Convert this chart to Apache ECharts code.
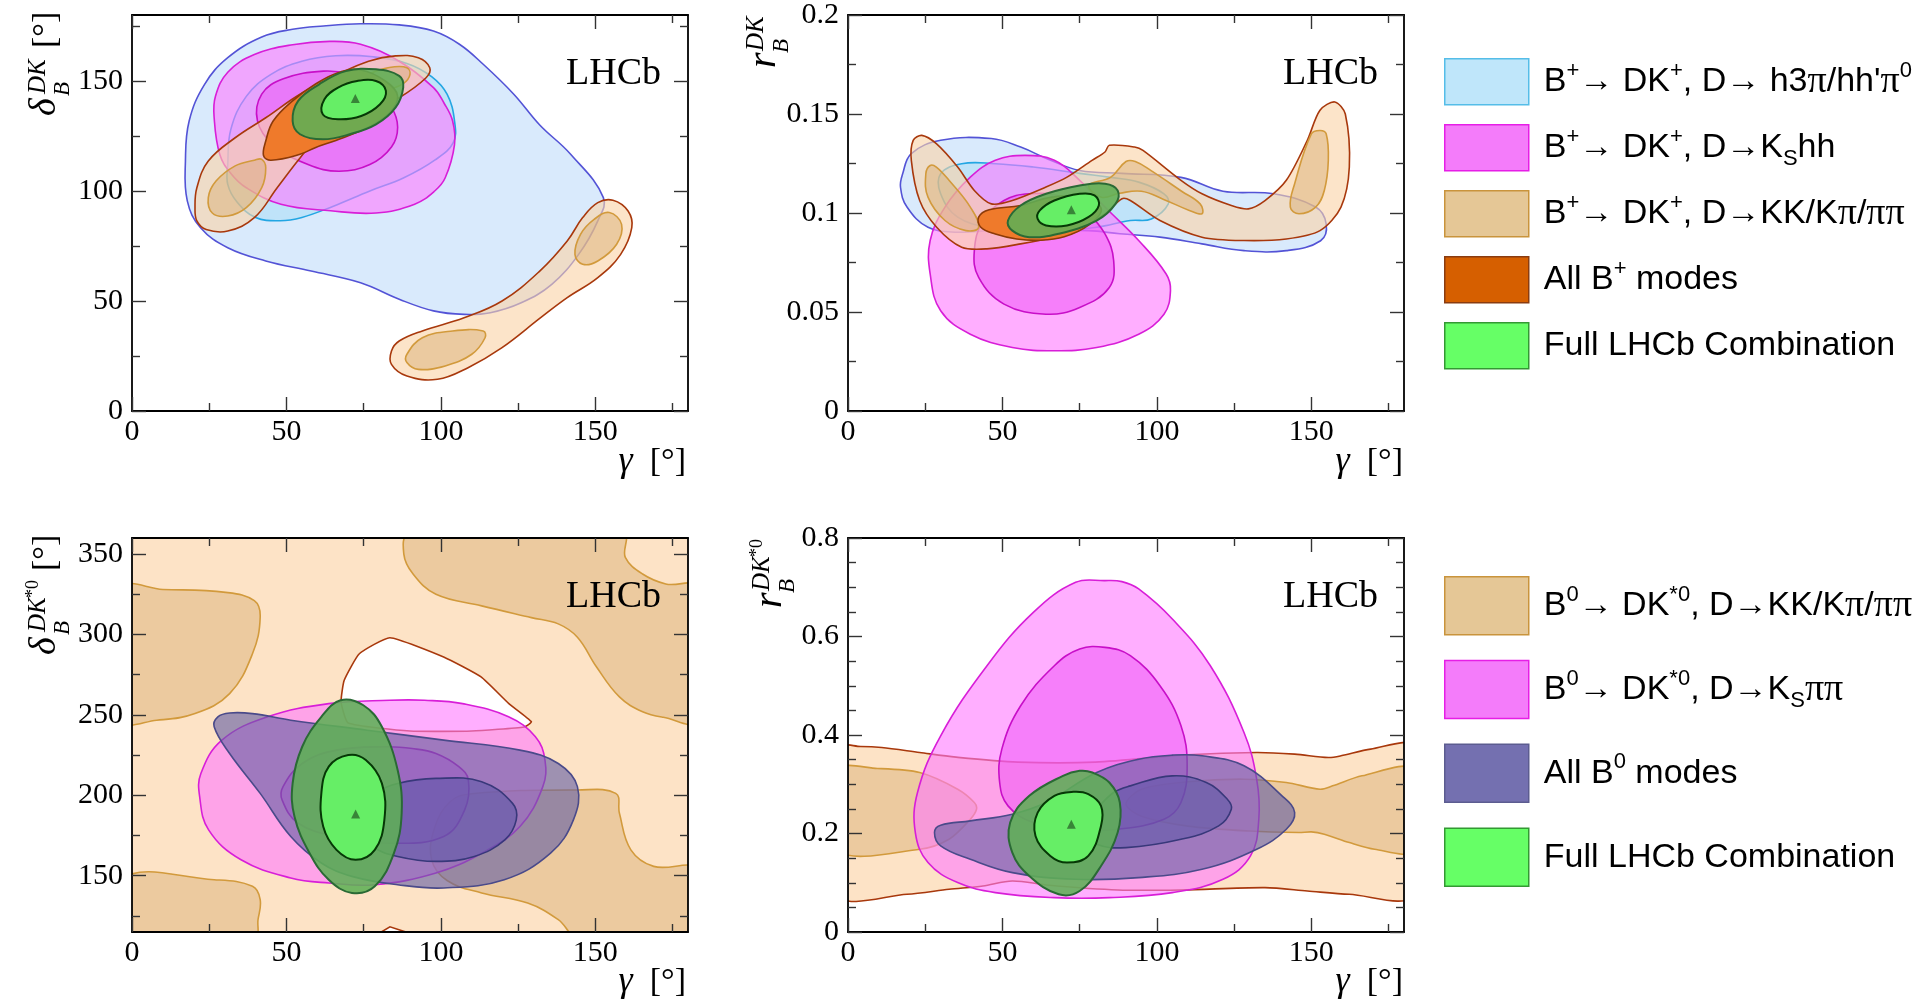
<!DOCTYPE html>
<html>
<head>
<meta charset="utf-8">
<script src="https://cdn.jsdelivr.net/npm/echarts@6/dist/echarts.min.js"></script>
<style>
  html, body { margin: 0; padding: 0; background: #fff; }
  #chart { width: 1917px; height: 1003px; }
</style>
</head>
<body>
<div id="chart"></div>
<script>
// ---- axis ticks ----
const gammaMajor = [0, 50, 100, 150];
const gammaMinor = [25, 75, 125, 175];
const deltaDKMajor = [0, 50, 100, 150];
const deltaDKMinor = [25, 75, 125, 175];
const rDKMajor = [0, 0.05, 0.1, 0.15, 0.2];
const rDKMinor = [0.025, 0.075, 0.125, 0.175];
const deltaDKstMajor = [150, 200, 250, 300, 350];
const deltaDKstMinor = [125, 175, 225, 275, 325];
const rDKstMajor = [0, 0.2, 0.4, 0.6, 0.8];
const rDKstMinor = [0.05, 0.1, 0.15, 0.25, 0.3, 0.35, 0.45, 0.5, 0.55, 0.65, 0.7, 0.75];

// ---- top left: gamma vs delta_B^DK ----
const tlH3piOuter = [[74,176],[62,175],[52,173.5],[42,170],[31,160.6],[23.5,148.5],[18.5,131.8],[17.3,113.6],[17.9,95.5],[22.2,83.3],[31,74.2],[43.3,68.2],[58,63.6],[74,58.3],[86.5,50.8],[97.6,45.5],[107.5,43.9],[116,44.7],[126,49.2],[135.9,57.6],[144.6,71.2],[150.8,86.4],[152.6,97],[142,116.7],[132,130],[123.6,144],[113.7,157.6],[106,166.7],[97.6,172.7],[86.5,175.5]];
const tlH3piInner = [[31,112],[32,128],[37,143],[45,153],[55,159],[66,161.5],[78,161],[89,158],[97,152],[102,144],[104.4,132],[104,122],[98,114],[88,106],[77,100],[65,93],[55,88],[48,86.5],[40,88],[34,95],[31,103]];
const tlKshhOuter = [[64,168],[52,166.5],[39.6,162],[31,154],[27,143],[26.6,133.3],[28.4,116.7],[32,108],[37,101.5],[48.2,94],[64.3,91],[79,90],[91.5,94],[98,100],[101.4,106],[104.4,121],[103.8,131.8],[101,140],[97.6,147],[86.5,159],[74,166.7]];
const tlKshhInner = [[62,154.5],[49,151],[42,144],[40.6,132],[45.7,121],[57,112],[67,109],[77,112],[84,120],[86,129],[84,138],[78,147],[70,153]];
const tlKKOuterA = [[21,86.4],[24,82.5],[31,81.8],[39.6,87.9],[47,101.5],[54.4,115],[59.3,122.7],[66,128],[75,134],[86.5,142.4],[95.2,151.5],[96.4,156],[92.7,160.6],[85.3,161.4],[76.6,159],[66.7,153],[54.4,144],[43.3,133.3],[33.4,124.2],[24.7,113.6],[21,101.5],[20.4,92.4]];
const tlKKOuterB = [[150.8,94.7],[155.7,95.8],[160.6,90.9],[161.8,83.3],[158.2,71.2],[150.8,60.6],[140.9,51.5],[132.3,42.4],[119.8,28.8],[108.8,19.7],[98.9,14.4],[89,15.9],[84,21.2],[84,27.3],[86.5,31.8],[94,36.4],[107.5,42.4],[119.8,50],[132,63.6],[140.9,77.3],[145.9,87.9]];
const tlKKInnerA = [[42,114.4],[43.3,110.6],[42,101.5],[37,92.4],[31,88.6],[26,90],[24.7,97],[27.2,104.5],[33.4,111.4],[39.6,114]];
const tlKKInnerB = [[74,150],[79,154.5],[85,156.5],[89,156],[90,153],[88,149],[83,146.2],[77,146.5]];
const tlKKInnerC = [[154.5,90.2],[158.5,84.8],[156.9,75.8],[150.8,68.2],[145.9,66.7],[143.4,71.2],[145.2,80.3],[149.6,87.1]];
const tlKKInnerD = [[89,25.8],[94,33.3],[103.8,36.4],[113.7,36.4],[114.3,33.3],[110,25.8],[101.4,20.5],[92.7,18.9],[89,22]];
const tlAllBp = [[42.6,116],[45,114],[54.4,116.7],[59.3,119.7],[66,123],[75,128],[83,135],[86,143],[82,150],[74,155],[66.7,153.8],[59.3,148.5],[52,141],[45.7,131.8],[43.3,122.7]];
const tlFullOuter = [[52,131.8],[54.4,125.8],[61.8,123.5],[70.5,125.8],[79,130.3],[85.3,137.9],[87.8,147],[86.5,152.3],[79,155.3],[69.2,154.5],[60.6,148.5],[53.8,141]];
const tlFullInner = [[61.8,134.8],[66.7,132.6],[74.2,134.1],[80.3,139.4],[82.2,145.5],[79,150],[72.9,150],[66.7,147],[62.3,141.7]];
const tlBest = [[72.3,142]];

// ---- top right: gamma vs r_B^DK ----
const trH3piOuter = [[17,0.113],[17.7,0.1198],[20.5,0.13],[30,0.1367],[46.4,0.1376],[55.9,0.1333],[65,0.127],[75,0.1215],[88.7,0.12],[107.8,0.118],[121.4,0.111],[137.8,0.1097],[151.4,0.103],[154.8,0.0945],[153,0.086],[141.9,0.081],[128.2,0.081],[114.6,0.0844],[101,0.0878],[88,0.0895],[77.8,0.0911],[60,0.0911],[46.4,0.0911],[35.5,0.0903],[25.9,0.0928],[19.1,0.103]];
const trH3piInner = [[30,0.1097],[30,0.1198],[36.8,0.1249],[47.7,0.1249],[60,0.1232],[75,0.12],[85,0.118],[94.1,0.1156],[102.3,0.1097],[103.7,0.1046],[98.2,0.097],[91.4,0.0962],[80.5,0.0928],[66.8,0.0911],[46.4,0.0928],[35.5,0.0979]];
const trKshhOuter = [[57.3,0.1291],[47.7,0.1266],[39.6,0.1181],[31.4,0.103],[26.6,0.0861],[26.6,0.0692],[30,0.0506],[39.6,0.0388],[53.2,0.0321],[66.8,0.0304],[80.5,0.0321],[94.1,0.0388],[102.3,0.0489],[104.4,0.0608],[103,0.0692],[94.1,0.0861],[83.2,0.103],[75,0.1165],[66.8,0.1266]];
const trKshhInner = [[58.7,0.1097],[50.5,0.1063],[43.7,0.0962],[40.9,0.081],[42.3,0.0675],[50.5,0.054],[64.1,0.0489],[75,0.0523],[84.6,0.0624],[86,0.076],[83.2,0.0894],[77.8,0.0996],[69.6,0.108]];
const trKKOuter = [[23.9,0.1392],[21.1,0.1367],[20.5,0.1266],[23.2,0.1063],[28.7,0.0928],[36.8,0.0827],[45,0.0819],[55.9,0.0844],[66.5,0.0878],[76,0.093],[83.2,0.0996],[88.7,0.1072],[91.4,0.1063],[101,0.0962],[114.6,0.0878],[128.2,0.0861],[141.9,0.0869],[152.8,0.0911],[159.6,0.103],[162.3,0.1232],[161,0.15],[157.6,0.1561],[152.8,0.1519],[148.7,0.1367],[141.9,0.1165],[135,0.1063],[129.6,0.1021],[124.1,0.1038],[114.6,0.1097],[107.8,0.1165],[95.5,0.1316],[92.8,0.1333],[84.6,0.1342],[83.2,0.1308],[79,0.1266],[70.9,0.1181],[64.1,0.1131],[53.2,0.1063],[46.4,0.1046],[40.9,0.1114],[35.5,0.1232],[28.6,0.135]];
const trKKInnerA = [[26.6,0.124],[25.2,0.1198],[25.9,0.108],[31.4,0.0962],[38.2,0.0911],[42.3,0.0928],[39.6,0.103],[32.7,0.1165],[28.6,0.1232]];
const trKKInnerB = [[78,0.114],[85,0.118],[90,0.126],[93,0.126],[98,0.1215],[108,0.111],[114,0.1046],[114.6,0.0996],[110.5,0.1013],[102,0.107],[95,0.111],[88,0.11],[82,0.108]];
const trKKInnerC = [[152.8,0.1417],[150,0.14],[144.6,0.1148],[143.2,0.103],[146,0.0996],[151.4,0.103],[154.2,0.1114],[155.5,0.1266],[154.8,0.14]];
const trAllBp = [[42.3,0.0979],[43,0.0928],[47.7,0.0894],[54.6,0.0869],[62,0.0862],[70,0.088],[78,0.094],[82,0.102],[76,0.108],[66,0.108],[55.9,0.1038],[45.7,0.1016]];
const trFullOuter = [[51.8,0.0962],[53.2,0.0911],[58.7,0.0878],[68.2,0.0895],[80.5,0.0962],[86.6,0.1046],[87.3,0.1114],[83.2,0.1148],[75,0.1139],[64.1,0.1097],[55.9,0.1038]];
const trFullInner = [[61.4,0.097],[64.1,0.0937],[70.9,0.0937],[77.8,0.0979],[81.2,0.1038],[79.8,0.1089],[75,0.1097],[66.8,0.1063],[62.1,0.1013]];
const trBest = [[72.3,0.1016]];

// ---- bottom left: gamma vs delta_B^DK*0 ----
const blKKOuter = [[-5,110],[185,110],[185,365],[-5,365]];
const blKKHoleA = [[67.7,258],[68.7,271.5],[73.6,288],[83.5,298],[100.9,286],[113,273.6],[122,257],[129.3,245.7],[127,242.5],[110,240],[90,240],[70,245]];
const blKKHoleB = [[79.8,114],[83.5,118.2],[90.3,114]];
const blKKInnerA = [[-3,328.3],[10,328],[30.3,326.2],[39.6,321],[41.5,310.7],[39,288],[31.6,263.2],[20.4,250.8],[8,246.7],[-3,246.7]];
const blKKInnerB = [[89.7,362],[88,350],[91,337.6],[98.4,325],[113.2,317.8],[129.3,310.5],[138,306.6],[144.2,298.3],[150.4,279.8],[157.8,261.2],[165.3,251.9],[172,248.5],[183,246.5],[183,329],[172.8,331.4],[165.3,337.6],[159.7,348],[159,362]];
const blKKInnerC = [[-3,148.6],[26.6,147.5],[39,143.4],[41.5,135.1],[40.8,122.7],[39.6,112],[-3,112]];
const blKKInnerD = [[110,201],[144.2,203.3],[156.6,201.2],[157.8,188.8],[161.5,166.1],[168.9,155.8],[183,153.7],[183,112],[144.2,112],[138,122.7],[128.1,133],[113.2,139.3],[102,147],[97,160],[98,180],[103,196]];
const blKshhOuter = [[83.5,259.1],[63.7,257],[43.9,248.8],[29.1,234.3],[22.3,213.6],[21.9,199.2],[24.8,178.5],[35.3,159.9],[51.4,148.6],[63.7,145.5],[78.6,144.4],[98.4,151.7],[113.2,164],[125.6,180.6],[133,205.4],[133.7,221.9],[130.6,236.4],[121.9,248.8],[107,257],[94.7,259.1]];
const blKshhInner = [[82.3,230.2],[66.2,228.1],[55.1,219.8],[48.9,205.4],[48.6,197.1],[53.8,182.6],[66.2,174.4],[83.5,170.2],[100.9,174.4],[107.7,190.9],[108.9,209.5],[105.8,217.8],[98.4,226],[90.7,229.1]];
const blAllB0Outer = [[27.8,248.8],[26.6,242.6],[31.6,226],[41.5,201.2],[51.4,174.4],[61.3,157.9],[71.2,149.6],[86,144.4],[100.9,142.4],[120.5,147.5],[135.5,164],[142.9,184.7],[144.2,205.4],[138,219.8],[125.6,228.1],[100.9,234.3],[76.1,240.5],[51.4,246.7],[39,250.8],[31.6,251.2]];
const blAllB0Inner = [[86,207.4],[98.4,210.5],[113.2,208.5],[123.2,195],[124.4,184.7],[120.7,172.3],[110.8,162],[98.4,158.9],[86,162],[78,168],[73.6,178.5],[73.6,190.9],[78.6,201.2]];
const blFullOuter = [[67.5,259.1],[61.3,248.8],[55.1,230.2],[52,207.4],[52.6,186.8],[57.5,164],[63.7,147.5],[71.2,139.3],[78.6,143.4],[84.8,164],[87.3,188.8],[86,215.7],[80.9,242.6],[74.9,256]];
const blFullInner = [[70,225],[63.7,217.8],[61.3,201.2],[61.9,180.6],[66.2,166.1],[72.4,159.9],[78.6,166.1],[81.7,184.7],[80.9,207.4],[75.7,221.9]];
const blBest = [[72.4,188.4]];

// ---- bottom right: gamma vs r_B^DK*0 ----
const brKKOuter = [[-3,0.3747],[4.1,0.3767],[10.9,0.3747],[23.2,0.3645],[35,0.355],[55,0.345],[80,0.345],[110,0.36],[132.3,0.3645],[144.6,0.3611],[155.5,0.3543],[159.6,0.3577],[169.2,0.3713],[183,0.3765],[183,0.0745],[162.3,0.0766],[148.7,0.0833],[135,0.0901],[107.8,0.0854],[87.3,0.0854],[65,0.095],[53.2,0.1037],[43.7,0.0935],[32.7,0.0867],[19.1,0.0766],[-3,0.0745]];
const brKKInnerA = [[-3,0.3306],[9.5,0.332],[23.2,0.3238],[35.5,0.29],[40.9,0.2629],[41.6,0.2493],[39.6,0.229],[32.7,0.1883],[23.2,0.168],[-3,0.1646]];
const brKKInnerB = [[95,0.29],[110,0.305],[128.2,0.3103],[141.9,0.3035],[152.8,0.29],[156.9,0.2968],[166.4,0.3171],[183,0.3306],[183,0.1646],[170.5,0.168],[162.3,0.1816],[154.2,0.1985],[150,0.2033],[146,0.2019],[130,0.205],[110,0.215],[95,0.235],[90,0.26]];
const brKshhOuter = [[83.2,0.7134],[73.7,0.71],[60,0.649],[45,0.5407],[30,0.3984],[22.5,0.2832],[21.8,0.2019],[25.9,0.1409],[35.5,0.1003],[47.7,0.08],[66.8,0.0698],[84.6,0.0698],[105,0.08],[121.4,0.107],[130.3,0.1545],[133,0.229],[132.3,0.3103],[128.2,0.4051],[117.3,0.5407],[105,0.6355],[94.1,0.6965],[88.7,0.7114]];
const brKshhInner = [[83.2,0.5779],[75,0.5745],[66.8,0.5407],[55.9,0.4593],[49.8,0.3713],[49.1,0.3035],[51.8,0.2561],[60,0.2222],[73.7,0.2087],[87.3,0.2087],[102.3,0.229],[107.8,0.2629],[109.8,0.3374],[107.8,0.4187],[101,0.5],[91.4,0.561]];
const brAllB0Outer = [[30,0.2168],[28,0.2019],[30,0.1748],[39.6,0.1477],[53.2,0.1206],[73.7,0.107],[94.1,0.1104],[114.6,0.1274],[132.3,0.168],[141.9,0.2087],[144.6,0.2425],[140.5,0.2764],[128.2,0.3374],[114.6,0.3577],[105,0.3591],[94.1,0.3509],[80.5,0.3238],[64.1,0.2629],[53.2,0.2392],[39.6,0.2256]];
const brAllB0Inner = [[91.4,0.2967],[105,0.3171],[116,0.3035],[122.8,0.2696],[124.1,0.2493],[120,0.2154],[107.8,0.1883],[90,0.1714],[80.5,0.1782],[75,0.2087],[80.5,0.2493],[86,0.2832]];
const brFullOuter = [[75,0.3272],[69.6,0.3171],[58.7,0.2764],[52.5,0.2222],[53.2,0.1612],[58.7,0.1138],[68.2,0.0766],[75,0.0833],[81.9,0.1341],[87.3,0.2019],[88,0.2629],[84.6,0.3035],[79.1,0.3238]];
const brFullInner = [[73,0.2846],[66.8,0.2764],[61.4,0.2425],[60.7,0.1951],[65.5,0.1545],[70.9,0.1409],[77.8,0.1545],[81.9,0.2154],[81.9,0.2561],[77.8,0.2799]];
const brBest = [[72.3,0.2188]];

// legend names
const nH3pi = "B+ DK+ h3pi";
const nKshh = "B+ DK+ Kshh";
const nKK = "B+ DK+ KK";
const nAllBp = "All B+ modes";
const nFull = "Full LHCb Combination";
const nKK0 = "B0 DK*0 KK";
const nKspipi0 = "B0 DK*0 Kspipi";
const nAllB0 = "All B0 modes";

const legendRich = {
  [nH3pi]: "{t|B}{sp|+}{t|\u2192 DK}{sp|+}{t|, D\u2192 h3}{g|\u03c0}{t|/hh'}{g|\u03c0}{sp|0}",
  [nKshh]: "{t|B}{sp|+}{t|\u2192 DK}{sp|+}{t|, D\u2192K}{sb|S}{t|hh}",
  [nKK]: "{t|B}{sp|+}{t|\u2192 DK}{sp|+}{t|, D\u2192KK/K}{g|\u03c0}{t|/}{g|\u03c0\u03c0}",
  [nAllBp]: "{t|All B}{sp|+}{t| modes}",
  [nFull]: "{t|Full LHCb Combination}",
  [nKK0]: "{t|B}{sp|0}{t|\u2192 DK}{sp|*0}{t|, D\u2192KK/K}{g|\u03c0}{t|/}{g|\u03c0\u03c0}",
  [nKspipi0]: "{t|B}{sp|0}{t|\u2192 DK}{sp|*0}{t|, D\u2192K}{sb|S}{g|\u03c0\u03c0}",
  [nAllB0]: "{t|All B}{sp|0}{t| modes}"
};

const st = {
  h3piOut: { fill: '#d9eafc', stroke: '#5353d6' },
  h3piIn: { fill: '#bfe3f9', stroke: '#23a6e3' },
  kshhOut: { fill: 'rgba(255,120,255,0.6)', stroke: '#d81ed8' },
  kshhIn: { fill: 'rgba(238,80,245,0.5)', stroke: '#c80fc8' },
  kkOut: { fill: 'rgba(250,212,168,0.62)', stroke: '#a8380c' },
  kkIn: { fill: 'rgba(215,170,110,0.45)', stroke: '#d29a3c' },
  kkBg: { fill: '#fde3c6', stroke: 'none', smooth: 0 },
  hole: { fill: '#ffffff', stroke: '#a8380c', smooth: 0.15 },
  allBp: { fill: '#ef7a2b', stroke: '#8c3a08' },
  allB0Out: { fill: 'rgba(100,95,165,0.62)', stroke: '#4a4a8a' },
  allB0In: { fill: 'rgba(90,85,165,0.55)', stroke: '#38387a' },
  fullOut: { fill: 'rgba(95,175,85,0.88)', stroke: '#2a6a35', lw: 2 },
  fullIn: { fill: '#66ee66', stroke: '#063806', lw: 2 }
};

function contour(name, p, polys) {
  return {
    type: 'custom', name, xAxisIndex: 4 * p, yAxisIndex: 4 * p, clip: true, silent: true,
    data: polys.map(q => q.pts[0]),
    renderItem(params, api) {
      const q = polys[params.dataIndex];
      return {
        type: 'polygon',
        shape: { points: q.pts.map(pt => api.coord(pt)), smooth: q.smooth ?? 0.4 },
        style: { fill: q.fill, stroke: q.stroke, lineWidth: q.lw ?? 1.6 }
      };
    }
  };
}
function best(p, pts) {
  return { type: 'scatter', name: 'best fit', xAxisIndex: 4 * p, yAxisIndex: 4 * p, data: pts,
    symbol: 'triangle', symbolSize: 9, itemStyle: { color: '#2d6a2d' }, silent: true, z: 5 };
}
const P = (pts, s) => Object.assign({ pts }, s);

const series = [
  // top left
  contour(nH3pi, 0, [P(tlH3piOuter, st.h3piOut), P(tlH3piInner, st.h3piIn)]),
  contour(nKshh, 0, [P(tlKshhOuter, st.kshhOut), P(tlKshhInner, st.kshhIn)]),
  contour(nKK, 0, [P(tlKKOuterA, st.kkOut), P(tlKKOuterB, st.kkOut), P(tlKKInnerA, st.kkIn), P(tlKKInnerB, st.kkIn), P(tlKKInnerC, st.kkIn), P(tlKKInnerD, st.kkIn)]),
  contour(nAllBp, 0, [P(tlAllBp, st.allBp)]),
  contour(nFull, 0, [P(tlFullOuter, st.fullOut), P(tlFullInner, st.fullIn)]),
  best(0, tlBest),
  // top right
  contour(nH3pi, 1, [P(trH3piOuter, st.h3piOut), P(trH3piInner, st.h3piIn)]),
  contour(nKshh, 1, [P(trKshhOuter, st.kshhOut), P(trKshhInner, st.kshhIn)]),
  contour(nKK, 1, [P(trKKOuter, Object.assign({}, st.kkOut, { smooth: 0.3 })), P(trKKInnerA, st.kkIn), P(trKKInnerB, st.kkIn), P(trKKInnerC, st.kkIn)]),
  contour(nAllBp, 1, [P(trAllBp, st.allBp)]),
  contour(nFull, 1, [P(trFullOuter, st.fullOut), P(trFullInner, st.fullIn)]),
  best(1, trBest),
  // bottom left
  contour(nKK0, 2, [P(blKKOuter, st.kkBg), P(blKKHoleA, st.hole), P(blKKHoleB, Object.assign({}, st.hole, { smooth: 0 })),
    P(blKKInnerA, st.kkIn), P(blKKInnerB, st.kkIn), P(blKKInnerC, st.kkIn), P(blKKInnerD, st.kkIn)]),
  contour(nKspipi0, 2, [P(blKshhOuter, st.kshhOut), P(blKshhInner, st.kshhIn)]),
  contour(nAllB0, 2, [P(blAllB0Outer, st.allB0Out), P(blAllB0Inner, st.allB0In)]),
  contour(nFull, 2, [P(blFullOuter, st.fullOut), P(blFullInner, st.fullIn)]),
  best(2, blBest),
  // bottom right
  contour(nKK0, 3, [P(brKKOuter, Object.assign({}, st.kkOut, { fill: '#fde3c6', smooth: 0.3 })), P(brKKInnerA, Object.assign({}, st.kkIn, { smooth: 0.3 })), P(brKKInnerB, Object.assign({}, st.kkIn, { smooth: 0.3 }))]),
  contour(nKspipi0, 3, [P(brKshhOuter, st.kshhOut), P(brKshhInner, st.kshhIn)]),
  contour(nAllB0, 3, [P(brAllB0Outer, st.allB0Out), P(brAllB0Inner, st.allB0In)]),
  contour(nFull, 3, [P(brFullOuter, st.fullOut), P(brFullInner, st.fullIn)]),
  best(3, brBest)
];

// ---- axes: main grid gets frame + major ticks, overlay grid gets minor ticks ----
const panels = [
  { left: 132, top: 15, height: 396, x: [0, 180], y: [0, 180], yMaj: deltaDKMajor, yMin: deltaDKMinor },
  { left: 848, top: 15, height: 396, x: [0, 180], y: [0, 0.2], yMaj: rDKMajor, yMin: rDKMinor },
  { left: 132, top: 538, height: 394, x: [0, 180], y: [115, 360], yMaj: deltaDKstMajor, yMin: deltaDKstMinor },
  { left: 848, top: 538, height: 394, x: [0, 180], y: [0, 0.8], yMaj: rDKstMajor, yMin: rDKstMinor }
];
const grid = [], xAxis = [], yAxis = [];
const lineSt = { color: '#000', width: 1.8 };
const tickSt = { color: '#333', width: 1.4 };
const labelSt = { fontFamily: 'Liberation Serif', fontSize: 30, color: '#000' };
panels.forEach((pn, p) => {
  [true, false].forEach(main => {
    const g = grid.length;
    grid.push({ left: pn.left, top: pn.top, width: 556, height: pn.height });
    const len = main ? 14 : 8;
    ['bottom', 'top'].forEach((pos, k) => xAxis.push({
      type: 'value', gridIndex: g, position: pos, min: pn.x[0], max: pn.x[1], z: 10,
      splitLine: { show: false },
      axisLine: { show: main, onZero: false, lineStyle: lineSt },
      axisTick: { inside: true, length: len, customValues: main ? gammaMajor : gammaMinor, lineStyle: tickSt },
      axisLabel: Object.assign({ show: main && k === 0, customValues: gammaMajor, margin: 6 }, labelSt)
    }));
    ['left', 'right'].forEach((pos, k) => yAxis.push({
      type: 'value', gridIndex: g, position: pos, min: pn.y[0], max: pn.y[1], z: 10,
      splitLine: { show: false },
      axisLine: { show: main, onZero: false, lineStyle: lineSt },
      axisTick: { inside: true, length: len, customValues: main ? pn.yMaj : pn.yMin, lineStyle: tickSt },
      axisLabel: Object.assign({ show: main && k === 0, customValues: pn.yMaj, margin: 9 }, labelSt)
    }));
  });
});

// ---- titles ----
const serif = 'Liberation Serif';
function txt(text, dx, dy, size, italic) {
  return { type: 'text', x: dx, y: dy, z: 100,
    style: { text, fontFamily: serif, fontSize: size, fontStyle: italic ? 'italic' : 'normal', fill: '#000', align: 'left', verticalAlign: 'bottom' } };
}
function yTitle(x, y, parts) {
  return { type: 'group', x, y, rotation: Math.PI / 2, z: 100, children: parts };
}
function xTitle(x, y) {
  return { type: 'text', x, y, z: 100, style: { text: '{i|\u03b3}{n|  [\u00b0]}', align: 'right', verticalAlign: 'middle',
    rich: { i: { fontFamily: serif, fontStyle: 'italic', fontSize: 36 }, n: { fontFamily: serif, fontSize: 34 } } } };
}
function lhcb(x, y) {
  return { type: 'text', x, y, z: 100, style: { text: 'LHCb', fontFamily: serif, fontSize: 38, fill: '#000', align: 'right', verticalAlign: 'middle' } };
}
const graphic = [
  lhcb(661, 74), lhcb(1378, 74), lhcb(661, 597), lhcb(1378, 597),
  xTitle(686, 462), xTitle(1403, 462), xTitle(686, 982), xTitle(1403, 982),
  yTitle(56, 116, [txt('\u03b4', 0, 8, 38, true), txt('DK', 22, -5, 25, true), txt('B', 20, 18, 23, true), txt('[\u00b0]', 68, 7, 34, false)]),
  yTitle(56, 655, [txt('\u03b4', 0, 8, 38, true), txt('DK', 23, -5, 25, true), txt('*0', 57, -14, 18, false), txt('B', 20, 18, 23, true), txt('[\u00b0]', 84, 7, 34, false)]),
  yTitle(776, 68, [txt('r', 0, 8, 40, true), txt('B', 15, 17, 23, true), txt('DK', 17, -7, 25, true)]),
  yTitle(782, 608, [txt('r', 0, 8, 40, true), txt('B', 15, 17, 23, true), txt('DK', 17, -7, 25, true), txt('*0', 51, -16, 18, false)])
];

// ---- legends ----
const richSt = {
  t: { fontFamily: 'Liberation Sans', fontSize: 34, lineHeight: 44, color: '#000' },
  g: { fontFamily: serif, fontSize: 38, lineHeight: 44, color: '#000' },
  sp: { fontFamily: 'Liberation Sans', fontSize: 22, lineHeight: 22, verticalAlign: 'top', color: '#000' },
  sb: { fontFamily: 'Liberation Sans', fontSize: 22, lineHeight: 22, verticalAlign: 'bottom', color: '#000' }
};
const legItem = (name, color, borderColor) => ({ name, icon: 'rect', itemStyle: { color, borderColor, borderWidth: 1.5 } });
const legendBase = {
  orient: 'vertical', left: 1439, itemWidth: 84, selectedMode: false,
  formatter: name => legendRich[name],
  textStyle: { fontFamily: 'Liberation Sans', fontSize: 34, color: '#000', padding: [0, 0, 0, 10], rich: richSt }
};
const legend = [
  Object.assign({}, legendBase, { top: 53, itemHeight: 46, itemGap: 18.5, data: [
    legItem(nH3pi, '#bfe6fa', '#55bde8'),
    legItem(nKshh, '#f47cfa', '#e61ee6'),
    legItem(nKK, '#e5c796', '#c9943c'),
    legItem(nAllBp, '#d65f00', '#8a3c10'),
    legItem(nFull, '#66ff66', '#339933')
  ] }),
  Object.assign({}, legendBase, { top: 571, itemHeight: 58, itemGap: 24.3, data: [
    legItem(nKK0, '#e5c796', '#c9943c'),
    legItem(nKspipi0, '#f47cfa', '#e61ee6'),
    legItem(nAllB0, '#7470b0', '#5c5c90'),
    legItem(nFull, '#66ff66', '#339933')
  ] })
];

const chart = echarts.init(document.getElementById('chart'));
chart.setOption({ animation: false, backgroundColor: '#fff', grid, xAxis, yAxis, legend, graphic, series });
</script>
</body>
</html>
